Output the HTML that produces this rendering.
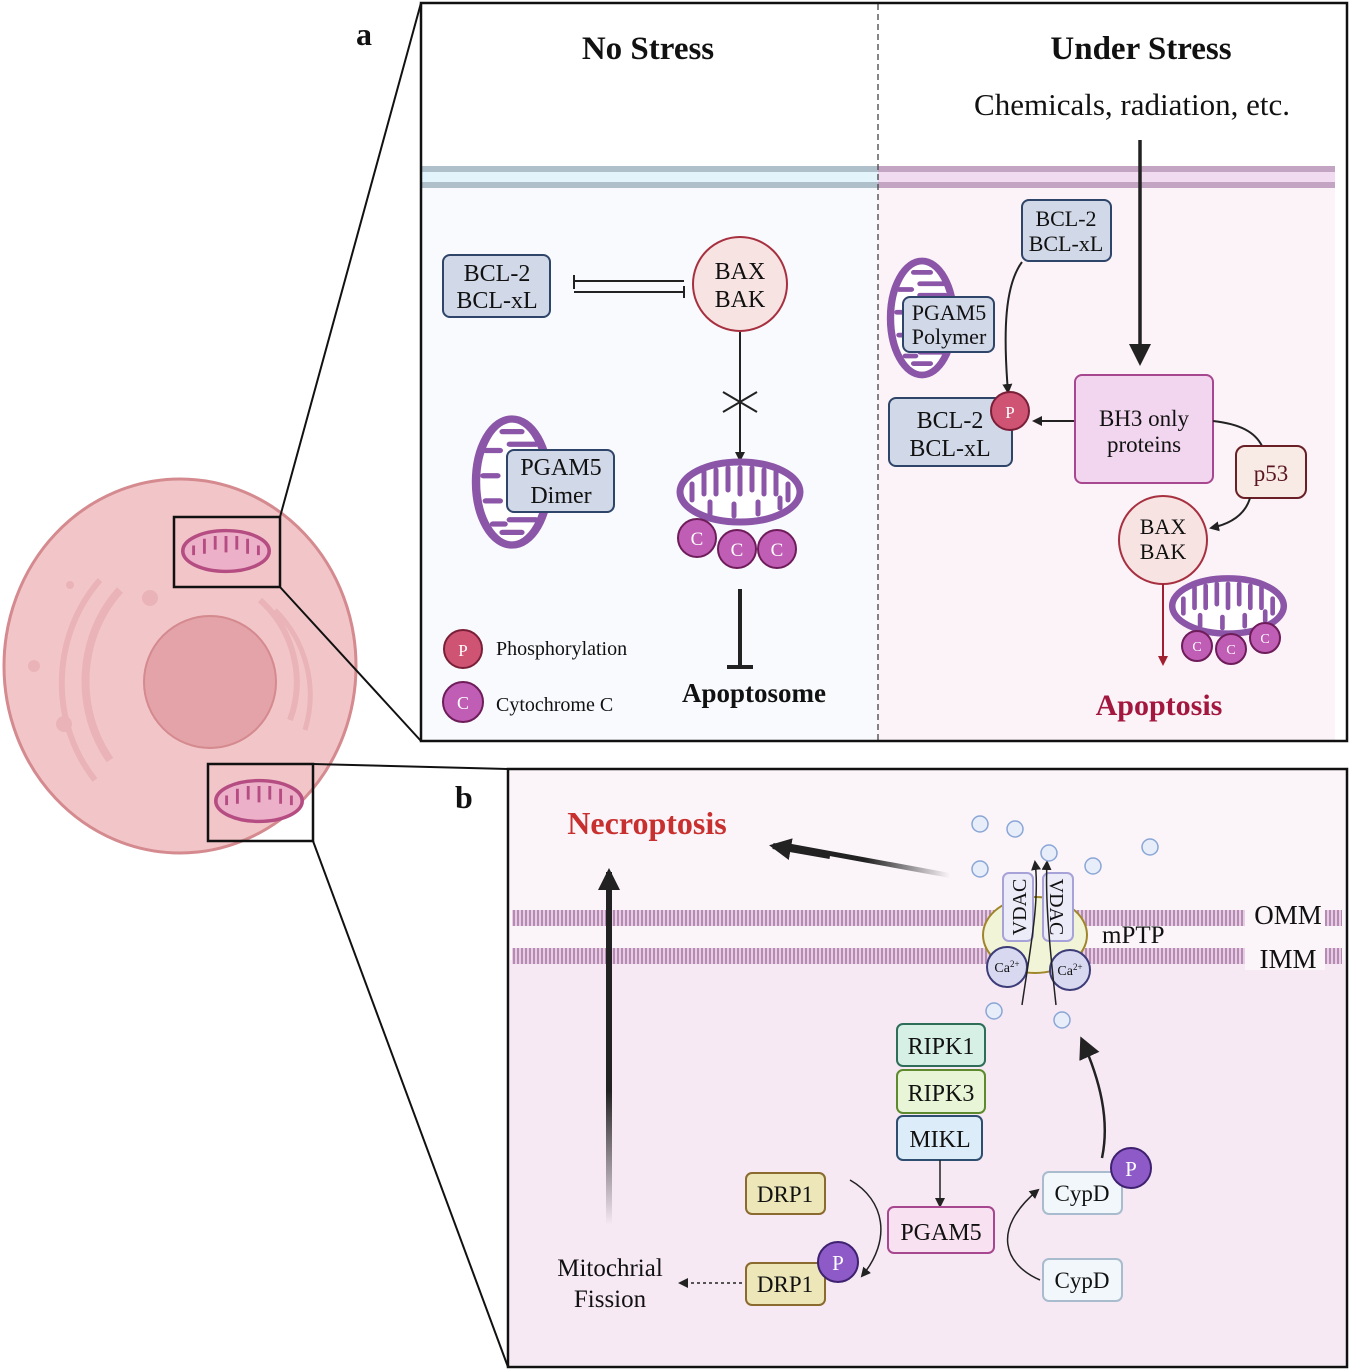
<!DOCTYPE html>
<html><head><meta charset="utf-8"><style>
html,body{margin:0;padding:0;background:#fff}
svg{display:block}
text{font-family:"Liberation Serif",serif;fill:#111}
</style></head><body>
<svg width="1350" height="1371" viewBox="0 0 1350 1371" xmlns="http://www.w3.org/2000/svg">
<defs>
<marker id="ah" markerWidth="10" markerHeight="10" refX="8" refY="5" orient="auto" markerUnits="userSpaceOnUse"><path d="M0,0 L10,5 L0,10 z" fill="#222"/></marker>
<marker id="ahr" markerWidth="10" markerHeight="10" refX="8" refY="5" orient="auto" markerUnits="userSpaceOnUse"><path d="M0,0 L10,5 L0,10 z" fill="#a02030"/></marker>
<marker id="ahb" markerWidth="22" markerHeight="22" refX="18" refY="11" orient="auto" markerUnits="userSpaceOnUse"><path d="M0,0 L22,11 L0,22 z" fill="#222"/></marker>
<linearGradient id="gf" x1="1" y1="0" x2="0" y2="0"><stop offset="0" stop-color="#222" stop-opacity="0"/><stop offset="0.5" stop-color="#222"/></linearGradient>
<linearGradient id="gv" x1="0" y1="1" x2="0" y2="0"><stop offset="0" stop-color="#222" stop-opacity="0"/><stop offset="0.4" stop-color="#222"/></linearGradient>
<pattern id="mem" width="4" height="12" patternUnits="userSpaceOnUse"><rect width="4" height="12" fill="#e6cde3"/><rect x="1" width="2" height="12" fill="#b58bb3"/></pattern>
<g id="mito"><ellipse cx="0" cy="0" rx="60" ry="30" fill="#fff" stroke="#8b55a8" stroke-width="7"/>
<path d="M-48,-8 v16 M-36,-20 v22 M-24,-22 v24 M-12,-24 v22 M0,-24 v26 M12,-24 v22 M24,-22 v24 M36,-20 v22 M48,-8 v16" stroke="#8b55a8" stroke-width="5" stroke-linecap="round"/>
<path d="M-30,22 v-12 M-6,24 v-12 M18,22 v-12 M40,16 v-10" stroke="#8b55a8" stroke-width="5" stroke-linecap="round"/></g>
</defs>

<!-- cell -->
<ellipse cx="180" cy="666" rx="176" ry="187" fill="#f2c6c8" stroke="#d48a8f" stroke-width="3"/>
<path d="M120,590 A120,130 0 0 0 110,760" fill="none" stroke="#e9b3b7" stroke-width="8"/>
<path d="M100,580 A140,150 0 0 0 95,780" fill="none" stroke="#e9b3b7" stroke-width="6"/>
<path d="M260,600 A110,110 0 0 1 290,720" fill="none" stroke="#e9b3b7" stroke-width="6"/>
<path d="M275,610 A120,120 0 0 1 305,730" fill="none" stroke="#e9b3b7" stroke-width="5"/>
<circle cx="210" cy="682" r="66" fill="#e3a3a8" stroke="#d48a8f" stroke-width="2"/>
<circle cx="150" cy="598" r="8" fill="#e9b3b7"/><circle cx="34" cy="666" r="6" fill="#e9b3b7"/><circle cx="64" cy="724" r="8" fill="#e9b3b7"/><circle cx="70" cy="585" r="4" fill="#e9b3b7"/>
<rect x="174" y="517" width="106" height="70" fill="none" stroke="#111" stroke-width="2.5"/>
<g transform="translate(226,551) scale(0.72,0.68)"><ellipse rx="60" ry="30" fill="#ecb0c9" stroke="#b54d82" stroke-width="5"/><path d="M-45,-8 v14 M-30,-18 v22 M-15,-22 v20 M0,-22 v24 M15,-22 v20 M30,-18 v22 M45,-8 v14" stroke="#b54d82" stroke-width="4"/></g>
<rect x="208" y="764" width="105" height="77" fill="none" stroke="#111" stroke-width="2.5"/>
<g transform="translate(259,801) scale(0.72,0.68)"><ellipse rx="60" ry="30" fill="#ecb0c9" stroke="#b54d82" stroke-width="5"/><path d="M-45,-8 v14 M-30,-18 v22 M-15,-22 v20 M0,-22 v24 M15,-22 v20 M30,-18 v22 M45,-8 v14" stroke="#b54d82" stroke-width="4"/></g>
<line x1="280" y1="517" x2="421" y2="3" stroke="#111" stroke-width="2"/>
<line x1="280" y1="587" x2="421" y2="741" stroke="#111" stroke-width="2"/>
<line x1="313" y1="764" x2="508" y2="769" stroke="#111" stroke-width="2"/>
<line x1="313" y1="841" x2="508" y2="1367" stroke="#111" stroke-width="2"/>

<!-- PANEL A -->
<rect x="421" y="3" width="926" height="738" fill="#fff"/>
<rect x="421" y="188" width="457" height="552" fill="#f8fafd"/>
<rect x="878" y="188" width="457" height="552" fill="#fbf3f8"/>
<rect x="421" y="166" width="457" height="22" fill="#e4f4fb"/>
<rect x="421" y="166" width="457" height="6" fill="#b0c0ca"/><rect x="421" y="182" width="457" height="6" fill="#b0c0ca"/>
<rect x="878" y="166" width="457" height="22" fill="#f1dbf1"/>
<rect x="878" y="166" width="457" height="6" fill="#c3a4c2"/><rect x="878" y="182" width="457" height="6" fill="#c3a4c2"/>
<line x1="878" y1="4" x2="878" y2="740" stroke="#444" stroke-width="1.3" stroke-dasharray="6,4"/>
<rect x="421" y="3" width="926" height="738" fill="none" stroke="#111" stroke-width="2.5"/>
<text x="356" y="45" font-size="32" font-weight="bold">a</text>
<text x="648" y="59" font-size="33" font-weight="bold" text-anchor="middle">No Stress</text>
<text x="1141" y="59" font-size="33" font-weight="bold" text-anchor="middle">Under Stress</text>
<text x="1132" y="115" font-size="31" text-anchor="middle">Chemicals, radiation, etc.</text>

<rect x="443" y="255" width="107" height="62" rx="7" fill="#d1d8e8" stroke="#2e4468" stroke-width="2"/>
<text x="497" y="281" font-size="24" text-anchor="middle">BCL-2</text><text x="497" y="308" font-size="24" text-anchor="middle">BCL-xL</text>
<line x1="574" y1="281" x2="684" y2="281" stroke="#222" stroke-width="2"/><line x1="574" y1="275" x2="574" y2="289" stroke="#222" stroke-width="2"/>
<line x1="574" y1="292" x2="684" y2="292" stroke="#222" stroke-width="2"/><line x1="684" y1="286" x2="684" y2="298" stroke="#222" stroke-width="2"/>
<circle cx="740" cy="284" r="47" fill="#f8e3e3" stroke="#a73040" stroke-width="2"/>
<text x="740" y="279" font-size="24" text-anchor="middle">BAX</text><text x="740" y="307" font-size="24" text-anchor="middle">BAK</text>
<line x1="740" y1="332" x2="740" y2="460" stroke="#222" stroke-width="2" marker-end="url(#ah)"/>
<path d="M723,392 L757,412 M723,412 L757,392" stroke="#222" stroke-width="2"/>
<use href="#mito" transform="translate(740,492)"/>
<g fill="#c05db5" stroke="#6e1c5a" stroke-width="2"><circle cx="697" cy="538" r="19"/><circle cx="737" cy="549" r="19"/><circle cx="777" cy="549" r="19"/></g>
<g font-size="19" text-anchor="middle"><text x="697" y="545" style="fill:#fff">C</text><text x="737" y="556" style="fill:#fff">C</text><text x="777" y="556" style="fill:#fff">C</text></g>
<line x1="740" y1="589" x2="740" y2="667" stroke="#222" stroke-width="4"/><line x1="727" y1="667" x2="753" y2="667" stroke="#222" stroke-width="4"/>
<text x="754" y="702" font-size="27" font-weight="bold" text-anchor="middle">Apoptosome</text>
<g transform="translate(512,482) rotate(90) scale(1.05,1.2)"><use href="#mito"/></g>
<rect x="507" y="450" width="107" height="62" rx="7" fill="#d1d8e8" stroke="#2e4468" stroke-width="2"/>
<text x="561" y="475" font-size="24" text-anchor="middle">PGAM5</text><text x="561" y="503" font-size="24" text-anchor="middle">Dimer</text>
<circle cx="463" cy="649" r="19" fill="#cf5373" stroke="#7a1f38" stroke-width="2"/><text x="463" y="656" font-size="17" text-anchor="middle" style="fill:#fff">P</text>
<text x="496" y="655" font-size="20">Phosphorylation</text>
<circle cx="463" cy="702" r="20" fill="#c05db5" stroke="#6e1c5a" stroke-width="2"/><text x="463" y="709" font-size="18" text-anchor="middle" style="fill:#fff">C</text>
<text x="496" y="711" font-size="20">Cytochrome C</text>

<!-- right -->
<line x1="1140" y1="140" x2="1140" y2="362" stroke="#222" stroke-width="3.5" marker-end="url(#ahb)"/>
<rect x="1022" y="200" width="89" height="61" rx="7" fill="#d1d8e8" stroke="#2e4468" stroke-width="2"/>
<text x="1066" y="226" font-size="22" text-anchor="middle">BCL-2</text><text x="1066" y="251" font-size="22" text-anchor="middle">BCL-xL</text>
<g transform="translate(922,318) rotate(90) scale(0.95,1.05)"><use href="#mito"/></g>
<rect x="903" y="297" width="91" height="55" rx="7" fill="#d1d8e8" stroke="#2e4468" stroke-width="2"/>
<text x="949" y="320" font-size="22" text-anchor="middle">PGAM5</text><text x="949" y="344" font-size="22" text-anchor="middle">Polymer</text>
<path d="M1022,262 C1005,285 1003,330 1008,392" fill="none" stroke="#222" stroke-width="2" marker-end="url(#ah)"/>
<rect x="889" y="398" width="123" height="68" rx="7" fill="#d1d8e8" stroke="#2e4468" stroke-width="2"/>
<text x="950" y="428" font-size="24" text-anchor="middle">BCL-2</text><text x="950" y="456" font-size="24" text-anchor="middle">BCL-xL</text>
<circle cx="1010" cy="411" r="19" fill="#cf5373" stroke="#7a1f38" stroke-width="2"/><text x="1010" y="418" font-size="17" text-anchor="middle" style="fill:#fff">P</text>
<line x1="1075" y1="421" x2="1034" y2="421" stroke="#222" stroke-width="2" marker-end="url(#ah)"/>
<rect x="1075" y="375" width="138" height="108" rx="7" fill="#f2d6ef" stroke="#a6478f" stroke-width="2"/>
<text x="1144" y="426" font-size="23" text-anchor="middle">BH3 only</text><text x="1144" y="452" font-size="23" text-anchor="middle">proteins</text>
<path d="M1213,421 C1240,424 1255,432 1262,446" fill="none" stroke="#222" stroke-width="2"/>
<rect x="1236" y="446" width="70" height="52" rx="9" fill="#f8ebe6" stroke="#6a1e25" stroke-width="2"/>
<text x="1271" y="481" font-size="23" text-anchor="middle" style="fill:#5a1520">p53</text>
<path d="M1250,498 C1245,515 1230,524 1211,528" fill="none" stroke="#222" stroke-width="2" marker-end="url(#ah)"/>
<circle cx="1163" cy="540" r="44" fill="#f8e3e3" stroke="#a73040" stroke-width="2"/>
<text x="1163" y="534" font-size="22" text-anchor="middle">BAX</text><text x="1163" y="559" font-size="22" text-anchor="middle">BAK</text>
<line x1="1163" y1="584" x2="1163" y2="664" stroke="#a02030" stroke-width="2" marker-end="url(#ahr)"/>
<g transform="translate(1228,606) scale(0.93,0.92)"><use href="#mito"/></g>
<g fill="#c05db5" stroke="#6e1c5a" stroke-width="2"><circle cx="1197" cy="646" r="15"/><circle cx="1231" cy="649" r="15"/><circle cx="1265" cy="638" r="15"/></g>
<g font-size="14" text-anchor="middle"><text x="1197" y="651" style="fill:#fff">C</text><text x="1231" y="654" style="fill:#fff">C</text><text x="1265" y="643" style="fill:#fff">C</text></g>
<text x="1159" y="715" font-size="30" font-weight="bold" text-anchor="middle" style="fill:#a3173f">Apoptosis</text>

<!-- PANEL B -->
<rect x="508" y="769" width="839" height="598" fill="#fbf5fa"/>
<rect x="510" y="960" width="835" height="405" fill="#f6e9f4"/>
<rect x="512" y="910" width="830" height="16" fill="url(#mem)"/>
<rect x="512" y="948" width="830" height="16" fill="url(#mem)"/>
<rect x="1245" y="900" width="80" height="70" fill="#fbf5fa"/>
<rect x="508" y="769" width="839" height="598" fill="none" stroke="#111" stroke-width="2.5"/>
<text x="455" y="808" font-size="32" font-weight="bold">b</text>
<text x="1288" y="924" font-size="27" text-anchor="middle">OMM</text>
<text x="1288" y="968" font-size="27" text-anchor="middle">IMM</text>
<text x="647" y="834" font-size="32" font-weight="bold" text-anchor="middle" style="fill:#c8302f">Necroptosis</text>
<polygon points="950,878 780,847 781,842 950,873" fill="url(#gf)"/>
<line x1="830" y1="856" x2="773" y2="846" stroke="#222" stroke-width="6" marker-end="url(#ahb)"/>
<rect x="606" y="890" width="6" height="335" fill="url(#gv)"/>
<line x1="609" y1="900" x2="609" y2="872" stroke="#222" stroke-width="6" marker-end="url(#ahb)"/>
<ellipse cx="1035" cy="935" rx="52" ry="38" fill="#f1f4d6" stroke="#a0862a" stroke-width="2"/>
<rect x="1003" y="873" width="30" height="68" rx="6" fill="#ecebf8" stroke="#a7a3d9" stroke-width="2"/>
<rect x="1043" y="873" width="30" height="68" rx="6" fill="#ecebf8" stroke="#a7a3d9" stroke-width="2"/>
<text transform="translate(1026,907) rotate(-90)" font-size="20" text-anchor="middle">VDAC</text>
<text transform="translate(1050,907) rotate(90)" font-size="20" text-anchor="middle">VDAC</text>
<text x="1102" y="943" font-size="25">mPTP</text>
<circle cx="1007" cy="967" r="20" fill="#d8d8f0" stroke="#3c3c78" stroke-width="2"/>
<circle cx="1070" cy="970" r="20" fill="#d8d8f0" stroke="#3c3c78" stroke-width="2"/>
<text x="1007" y="972" font-size="14" text-anchor="middle">Ca<tspan font-size="9" dy="-5">2+</tspan></text>
<text x="1070" y="975" font-size="14" text-anchor="middle">Ca<tspan font-size="9" dy="-5">2+</tspan></text>
<path d="M1022,1005 C1030,950 1040,900 1035,862" fill="none" stroke="#222" stroke-width="1.5" marker-end="url(#ah)"/>
<path d="M1056,1005 C1050,950 1045,900 1047,862" fill="none" stroke="#222" stroke-width="1.5" marker-end="url(#ah)"/>
<g fill="#e8eef9" stroke="#8aa6d6" stroke-width="1.5">
<circle cx="980" cy="824" r="8"/><circle cx="1015" cy="829" r="8"/><circle cx="1049" cy="853" r="8"/><circle cx="1150" cy="847" r="8"/><circle cx="980" cy="869" r="8"/><circle cx="1093" cy="866" r="8"/><circle cx="994" cy="1011" r="8"/><circle cx="1062" cy="1020" r="8"/></g>

<rect x="897" y="1024" width="88" height="42" rx="6" fill="#d6f0e6" stroke="#2e6e58" stroke-width="2"/><text x="941" y="1054" font-size="24" text-anchor="middle">RIPK1</text>
<rect x="897" y="1070" width="88" height="43" rx="6" fill="#e8f5d6" stroke="#5e8a2e" stroke-width="2"/><text x="941" y="1101" font-size="24" text-anchor="middle">RIPK3</text>
<rect x="897" y="1116" width="85" height="44" rx="6" fill="#dcecf8" stroke="#2e4e70" stroke-width="2"/><text x="940" y="1147" font-size="24" text-anchor="middle">MIKL</text>
<line x1="940" y1="1160" x2="940" y2="1206" stroke="#222" stroke-width="1.5" marker-end="url(#ah)"/>
<rect x="888" y="1207" width="106" height="46" rx="6" fill="#f8e2f1" stroke="#a6478f" stroke-width="2"/><text x="941" y="1240" font-size="24" text-anchor="middle">PGAM5</text>
<rect x="746" y="1173" width="79" height="41" rx="6" fill="#ece6b8" stroke="#8a6a2e" stroke-width="2"/><text x="785" y="1202" font-size="23" text-anchor="middle">DRP1</text>
<rect x="746" y="1263" width="79" height="42" rx="6" fill="#ece6b8" stroke="#8a6a2e" stroke-width="2"/><text x="785" y="1292" font-size="23" text-anchor="middle">DRP1</text>
<circle cx="838" cy="1262" r="20" fill="#8e5ac8" stroke="#3e2270" stroke-width="2"/><text x="838" y="1270" font-size="21" text-anchor="middle" style="fill:#fff">P</text>
<path d="M850,1180 C885,1200 892,1240 862,1276" fill="none" stroke="#222" stroke-width="1.5" marker-end="url(#ah)"/>
<line x1="742" y1="1283" x2="680" y2="1283" stroke="#222" stroke-width="1.5" stroke-dasharray="3,3" marker-end="url(#ah)"/>
<text x="610" y="1276" font-size="25" text-anchor="middle">Mitochrial</text><text x="610" y="1307" font-size="25" text-anchor="middle">Fission</text>
<rect x="1043" y="1172" width="79" height="42" rx="6" fill="#f2f7fb" stroke="#a8bccd" stroke-width="2"/><text x="1082" y="1201" font-size="23" text-anchor="middle">CypD</text>
<circle cx="1131" cy="1168" r="20" fill="#8e5ac8" stroke="#3e2270" stroke-width="2"/><text x="1131" y="1176" font-size="21" text-anchor="middle" style="fill:#fff">P</text>
<rect x="1043" y="1259" width="79" height="42" rx="6" fill="#f2f7fb" stroke="#a8bccd" stroke-width="2"/><text x="1082" y="1288" font-size="23" text-anchor="middle">CypD</text>
<path d="M1040,1280 C1005,1265 990,1230 1038,1190" fill="none" stroke="#222" stroke-width="1.5" marker-end="url(#ah)"/>
<path d="M1102,1158 C1110,1120 1100,1080 1082,1040" fill="none" stroke="#222" stroke-width="2.5" marker-end="url(#ahb)"/>
</svg>
</body></html>
